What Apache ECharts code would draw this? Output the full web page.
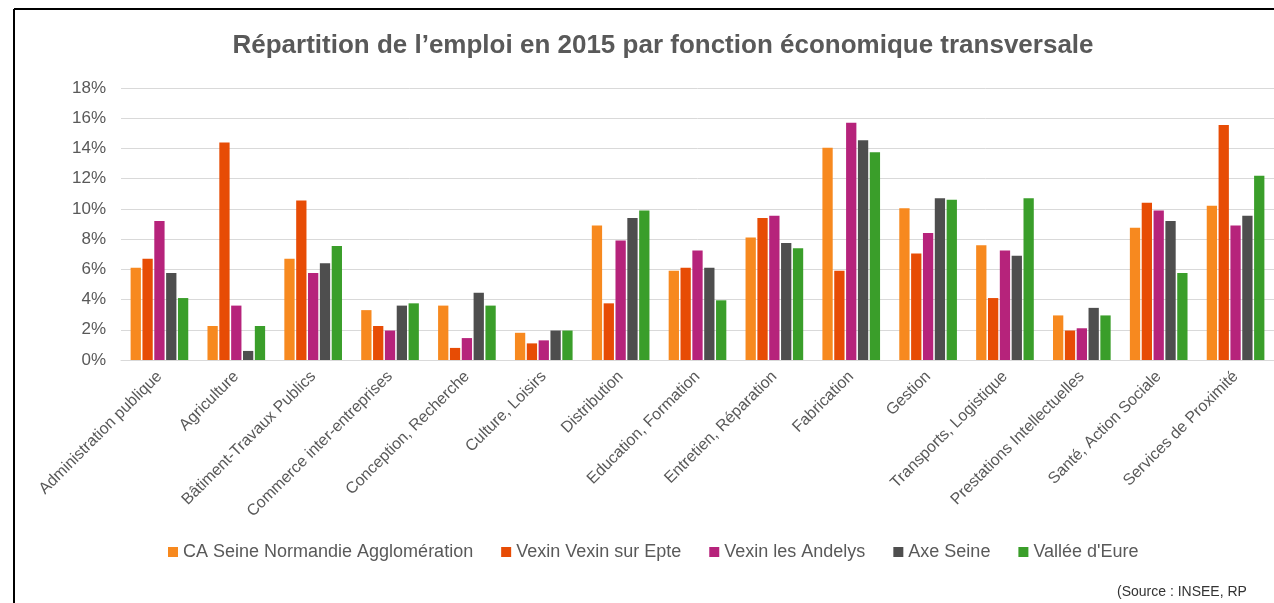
<!DOCTYPE html>
<html>
<head>
<meta charset="utf-8">
<script src="https://cdn.jsdelivr.net/npm/echarts@6/dist/echarts.min.js"></script>
<style>
  html, body { margin: 0; padding: 0; background: #fff; }
  #main { width: 1274px; height: 603px; }
</style>
</head>
<body>
<div id="main"></div>
<script>
let categories = [
  "Administration publique", "Agriculture", "Bâtiment-Travaux Publics",
  "Commerce inter-entreprises", "Conception, Recherche", "Culture, Loisirs",
  "Distribution", "Education, Formation", "Entretien, Réparation",
  "Fabrication", "Gestion", "Transports, Logistique",
  "Prestations Intellectuelles", "Santé, Action Sociale", "Services de Proximité"
];

let seriesNames = [
  "CA Seine Normandie Agglomération", "Vexin Vexin sur Epte",
  "Vexin les Andelys", "Axe Seine", "Vallée d'Eure"
];

let caSeine = [6.1, 2.25, 6.7, 3.3, 3.6, 1.8, 8.9, 5.9, 8.1, 14.05, 10.05, 7.6, 2.95, 8.75, 10.2];
let vexinEpte = [6.7, 14.4, 10.55, 2.25, 0.8, 1.1, 3.75, 6.1, 9.4, 5.9, 7.05, 4.1, 1.95, 10.4, 15.55];
let vexinAndelys = [9.2, 3.6, 5.75, 1.95, 1.45, 1.3, 7.9, 7.25, 9.55, 15.7, 8.4, 7.25, 2.1, 9.9, 8.9];
let axeSeine = [5.75, 0.6, 6.4, 3.6, 4.45, 1.95, 9.4, 6.1, 7.75, 14.55, 10.7, 6.9, 3.45, 9.2, 9.55];
let valleeEure = [4.1, 2.25, 7.55, 3.75, 3.6, 1.95, 9.9, 3.95, 7.4, 13.75, 10.6, 10.7, 2.95, 5.75, 12.2];

let colors = ["#F7891F", "#E74C05", "#B6237B", "#4E4E4E", "#3A9E2A"];
let values = [caSeine, vexinEpte, vexinAndelys, axeSeine, valleeEure];

let font = "Liberation Sans, Arial, sans-serif";

let myChart = document.getElementById("main");
let initChart = echarts.init(myChart, null, { renderer: "canvas" });

let option = {
  backgroundColor: "#fff",
  title: {
    text: "Répartition de l’emploi en 2015 par fonction économique transversale",
    left: 658,
    top: 28,
    textAlign: "center",
    textStyle: {
      fontFamily: font,
      fontSize: 26,
      fontWeight: "bold",
      color: "#595959",
    },
  },
  legend: {
    data: seriesNames,
    left: 163,
    top: 538,
    itemWidth: 10,
    itemHeight: 10,
    itemGap: 28,
    icon: "rect",
    textStyle: {
      fontFamily: font,
      fontSize: 18,
      color: "#595959",
    },
  },
  grid: {
    left: 121,
    right: -8,
    top: 88,
    bottom: 243,
  },
  xAxis: {
    type: "category",
    data: categories,
    axisTick: { show: false },
    axisLine: { lineStyle: { color: "#d9d9d9", width: 1 } },
    axisLabel: {
      interval: 0,
      rotate: 45,
      margin: 14,
      fontFamily: font,
      fontSize: 16,
      color: "#595959",
    },
  },
  yAxis: {
    type: "value",
    min: 0,
    max: 18,
    interval: 2,
    axisLine: { show: false },
    axisTick: { show: false },
    splitLine: { lineStyle: { color: "#d9d9d9", width: 1 } },
    axisLabel: {
      formatter: "{value}%",
      margin: 15,
      fontFamily: font,
      fontSize: 17,
      color: "#595959",
    },
  },
  series: seriesNames.map((name, i) => ({
    name: name,
    type: "bar",
    data: values[i],
    barGap: "15%",
    barCategoryGap: "25%",
    itemStyle: { color: colors[i] },
  })),
  graphic: [
    {
      type: "line",
      shape: { x1: 14, y1: 9, x2: 1274, y2: 9 },
      style: { stroke: "#000", lineWidth: 2 },
    },
    {
      type: "line",
      shape: { x1: 14, y1: 9, x2: 14, y2: 603 },
      style: { stroke: "#000", lineWidth: 2 },
    },
    {
      type: "text",
      left: 1117,
      top: 585,
      style: {
        text: "(Source : INSEE, RP",
        font: "14px Liberation Sans, Arial, sans-serif",
        fill: "#333",
      },
    },
  ],
  animation: false,
};

initChart.setOption(option);
</script>
</body>
</html>
